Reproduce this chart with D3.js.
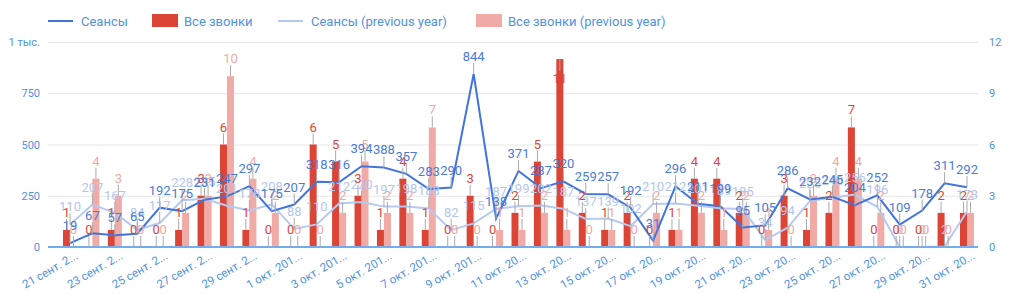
<!DOCTYPE html>
<html>
<head>
<meta charset="utf-8">
<script src="https://cdn.jsdelivr.net/npm/d3@7"></script>
<style>
  body { margin: 0; background: #fff; font-family: Roboto, sans-serif; }
</style>
</head>
<body>
<div id="chart"></div>
<script>
// daily values, 21 Sep .. 31 Oct
var sessions = [19, 67, 57, 65, 192, 175, 231, 247, 297, 175, 207, 318, 316, 394, 388, 357, 283, 290, 844, 138,
  371, 287, 320, 259, 257, 192, 31, 296, 211, 199, 95, 105, 286, 232, 245, 204, 252, 109, 178, 311, 292]
var calls = [1, 0, 1, 0, 0, 1, 3, 6, 1, 0, 0, 6, 5, 3, 1, 4, 1, 0, 3, 0,
  2, 5, 11, 2, 1, 2, 0, 1, 4, 4, 2, 0, 3, 1, 2, 7, 0, 0, 0, 2, 2]
var sessionsPrev = [110, 207, 167, 84, 117, 228, 235, 201, 178, 208, 88, 110, 212, 220, 197, 198, 188, 82, 115, 187,
  199, 202, 187, 137, 139, 102, 210, 212, 201, 189, 185, 34, 94, 225, 240, 256, 196, 0, 0, 2, 173]
var callsPrev = [0, 4, 3, 0, 0, 2, 3, 10, 4, 2, 0, 0, 2, 5, 2, 2, 7, 0, 0, 1,
  1, 2, 1, 0, 1, 0, 2, 1, 2, 1, 2, 1, 0, 3, 4, 4, 2, 0, 0, 0, 2]

var tickLabels = ['21 сент. 2...', '23 сент. 2...', '25 сент. 2...', '27 сент. 2...', '29 сент. 2...',
  '1 окт. 201...', '3 окт. 201...', '5 окт. 201...', '7 окт. 201...', '9 окт. 201...',
  '11 окт. 20...', '13 окт. 20...', '15 окт. 20...', '17 окт. 20...', '19 окт. 20...',
  '21 окт. 20...', '23 окт. 20...', '25 окт. 20...', '27 окт. 20...', '29 окт. 20...', '31 окт. 20...']
var leftTicks = [0, 250, 500, 750, 1000]
var rightTicks = [0, 3, 6, 9, 12]

var legendItems = [
  { name: 'Сеансы', type: 'line', color: '#4275dc' },
  { name: 'Все звонки', type: 'bar', color: '#dc4436' },
  { name: 'Сеансы (previous year)', type: 'line', color: '#b6c9f2' },
  { name: 'Все звонки (previous year)', type: 'bar', color: '#f0aba6' }
]

var width = 1024
var height = 294
var plot = { left: 48, right: 978, top: 42, bottom: 247 }
var textBlue = '#4f92de'

var svg = d3.select('#chart').append('svg')
  .attr('width', width)
  .attr('height', height)
  .style('font-family', 'Roboto, sans-serif')

var x = d3.scalePoint().domain(d3.range(sessions.length)).range([70, 967])
var yL = d3.scaleLinear().domain([0, 1000]).range([plot.bottom, plot.top])
var yR = d3.scaleLinear().domain([0, 12]).range([plot.bottom, plot.top])

// gridlines
svg.append('g')
  .attr('transform', 'translate(' + plot.left + ',0)')
  .call(d3.axisLeft(yL).tickValues(leftTicks).tickSize(-(plot.right - plot.left)).tickFormat(''))
  .call(g => g.select('.domain').remove())
  .selectAll('line').attr('stroke', '#e6e6e6')

// left axis
svg.append('g')
  .attr('transform', 'translate(' + (plot.left - 8) + ',0)')
  .call(d3.axisLeft(yL).tickValues(leftTicks).tickSize(0).tickPadding(0)
    .tickFormat(d => d === 1000 ? '1 тыс.' : d))
  .call(g => g.select('.domain').remove())
  .selectAll('text').attr('fill', textBlue).attr('font-size', 11).attr('font-family', 'Roboto, sans-serif')

// right axis
svg.append('g')
  .attr('transform', 'translate(' + (plot.right + 11) + ',0)')
  .call(d3.axisRight(yR).tickValues(rightTicks).tickSize(0).tickPadding(0))
  .call(g => g.select('.domain').remove())
  .selectAll('text').attr('fill', textBlue).attr('font-size', 11).attr('font-family', 'Roboto, sans-serif')

// bars
var barW = 7
svg.append('g').selectAll('rect')
  .data(calls)
  .join('rect')
  .attr('x', (d, i) => x(i) - barW)
  .attr('y', d => yR(d))
  .attr('width', barW)
  .attr('height', d => plot.bottom - yR(d))
  .attr('fill', legendItems[1].color)

svg.append('g').selectAll('rect')
  .data(callsPrev)
  .join('rect')
  .attr('x', (d, i) => x(i))
  .attr('y', d => yR(d))
  .attr('width', barW)
  .attr('height', d => plot.bottom - yR(d))
  .attr('fill', legendItems[3].color)

// lines
var line = d3.line().x((d, i) => x(i)).y(d => yL(d))
svg.append('path').datum(sessionsPrev)
  .attr('d', line).attr('fill', 'none')
  .attr('stroke', legendItems[2].color).attr('stroke-width', 2)
svg.append('path').datum(sessions)
  .attr('d', line).attr('fill', 'none')
  .attr('stroke', legendItems[0].color).attr('stroke-width', 2)

// x axis baseline + labels
svg.append('g')
  .attr('transform', 'translate(0,' + plot.bottom + ')')
  .call(d3.axisBottom(x).tickValues(d3.range(0, sessions.length, 2)).tickSize(0)
    .tickFormat(i => tickLabels[i / 2]))
  .call(g => g.select('.domain').remove())
  .selectAll('text')
  .attr('fill', textBlue)
  .attr('font-size', 11.5)
  .attr('font-family', 'Roboto, sans-serif')
  .attr('text-anchor', 'end')
  .attr('y', 0)
  .attr('dy', '0.71em')
  .attr('transform', 'translate(4,4) rotate(-30)')

svg.append('line')
  .attr('x1', plot.left).attr('x2', plot.right)
  .attr('y1', plot.bottom).attr('y2', plot.bottom)
  .attr('stroke', '#74acf0').attr('stroke-width', 2)

// data labels with small leader lines; flipped inside when no room above
function addLabels(values, yScale, dx, color) {
  var g = svg.append('g')
  var inside = d => yScale(d) - 24 < plot.top
  g.selectAll('line')
    .data(values)
    .join('line')
    .attr('x1', (d, i) => x(i) + dx).attr('x2', (d, i) => x(i) + dx)
    .attr('y1', d => yScale(d)).attr('y2', d => inside(d) ? yScale(d) + 12 : yScale(d) - 11)
    .attr('stroke', '#aaaaaa').attr('stroke-width', 1)
  g.selectAll('text')
    .data(values)
    .join('text')
    .attr('x', (d, i) => x(i) + dx)
    .attr('y', d => inside(d) ? yScale(d) + 24 : yScale(d) - 13)
    .attr('text-anchor', 'middle')
    .attr('font-size', 13)
    .attr('fill', color)
    .text(d => d)
}
addLabels(sessionsPrev, yL, 0, '#b3c6f0')
addLabels(callsPrev, yR, barW / 2, '#efa9a4')
addLabels(calls, yR, -barW / 2, '#d9473b')
addLabels(sessions, yL, 0, '#4a7bd9')

// legend
var legendX = [48, 152, 278, 476]
var legend = svg.append('g').attr('transform', 'translate(0,21)')
legendItems.forEach((item, i) => {
  var g = legend.append('g').attr('transform', 'translate(' + legendX[i] + ',0)')
  if (item.type === 'line') {
    g.append('line').attr('x1', 0).attr('x2', 25).attr('y1', 0).attr('y2', 0)
      .attr('stroke', item.color).attr('stroke-width', 2)
  } else {
    g.append('rect').attr('x', 0).attr('y', -7).attr('width', 26).attr('height', 13)
      .attr('fill', item.color)
  }
  g.append('text')
    .attr('x', item.type === 'line' ? 33 : 32)
    .attr('y', 0)
    .attr('dy', '0.35em')
    .attr('font-size', 13)
    .attr('fill', textBlue)
    .text(item.name)
})
</script>
</body>
</html>
